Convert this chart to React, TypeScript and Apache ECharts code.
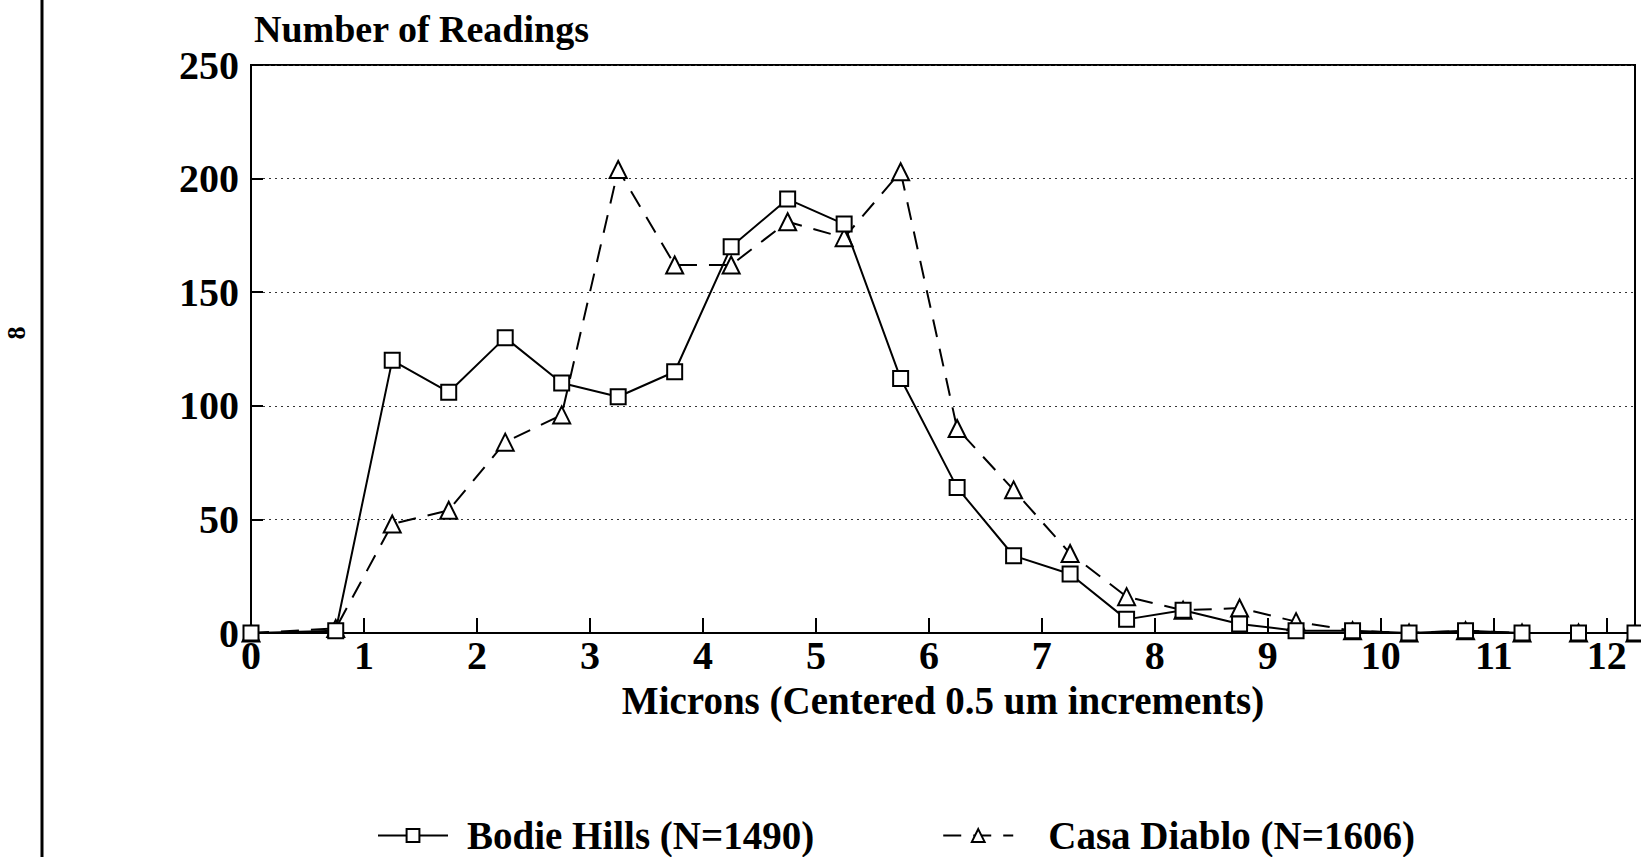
import { useEffect, useRef } from "react";
import * as echarts from "echarts";

const xValues = [0, 0.75, 1.25, 1.75, 2.25, 2.75, 3.25, 3.75, 4.25, 4.75, 5.25, 5.75, 6.25, 6.75, 7.25, 7.75, 8.25, 8.75, 9.25, 9.75, 10.25, 10.75, 11.25, 11.75, 12.25];
const bodieHills = [0, 1, 120, 106, 130, 110, 104, 115, 170, 191, 180, 112, 64, 34, 26, 6, 10, 4, 1, 1, 0, 1, 0, 0, 0];
const casaDiablo = [0, 2, 48, 54, 84, 96, 204, 162, 162, 181, 174, 203, 90, 63, 35, 16, 10, 11, 5, 1, 0, 1, 0, 0, 0];
const seriesNames = ["Bodie Hills (N=1490)", "Casa Diablo (N=1606)"];
const yAxisTitle = "Number of Readings";
const xAxisTitle = "Microns (Centered 0.5 um increments)";

const FONT = "'Liberation Serif', 'Times New Roman', serif";

export default function App() {
  const ref = useRef<HTMLDivElement>(null);
  useEffect(() => {
    if (!ref.current) return;
    const chart = echarts.init(ref.current, null, { renderer: "svg" });
    const txt = { fontFamily: FONT, fontWeight: "bold" as const, color: "#000" };
    chart.setOption({
      animation: false,
      backgroundColor: "#fff",
      grid: {
        left: 251,
        right: 6,
        top: 65,
        bottom: 224,
        show: true,
        borderColor: "#000",
        borderWidth: 2,
        backgroundColor: "transparent",
      },
      title: {
        text: yAxisTitle,
        left: 249,
        top: 5,
        textStyle: { ...txt, fontSize: 38 },
      },
      legend: {
        data: [
          { name: seriesNames[0], textStyle: { ...txt, fontSize: 39, padding: [0, 0, 0, 14] } },
          { name: seriesNames[1], textStyle: { ...txt, fontSize: 39, padding: [0, 0, 0, 30] } },
        ],
        left: 377,
        top: 816,
        padding: 0,
        itemWidth: 70,
        itemHeight: 16,
        itemGap: 128,
        textStyle: { ...txt, fontSize: 39 },
      },
      xAxis: {
        type: "value",
        min: 0,
        max: 12.25,
        interval: 1,
        name: xAxisTitle,
        nameLocation: "middle",
        nameGap: 48,
        nameTextStyle: { ...txt, fontSize: 39 },
        axisLine: { show: true, lineStyle: { color: "#000", width: 2 } },
        axisTick: { show: true, inside: true, length: 15, lineStyle: { color: "#000", width: 2 } },
        axisLabel: {
          ...txt,
          fontSize: 40,
          margin: 2,
          formatter: (v: number) => (Number.isInteger(v) ? String(v) : ""),
        },
        splitLine: { show: false },
      },
      yAxis: {
        type: "value",
        min: 0,
        max: 250,
        interval: 50,
        axisLine: { show: true, lineStyle: { color: "#000", width: 2 } },
        axisTick: { show: true, inside: true, length: 12, lineStyle: { color: "#000", width: 2 } },
        axisLabel: { ...txt, fontSize: 40, margin: 12 },
        splitLine: { show: true, lineStyle: { color: "#333", width: 1, type: [2, 4] } },
      },
      series: [
        {
          name: seriesNames[0],
          type: "line",
          data: xValues.map((x, i) => [x, bodieHills[i]]),
          symbol: "emptyRect",
          symbolSize: 15,
          lineStyle: { color: "#000", width: 2 },
          itemStyle: { color: "#000", borderWidth: 2 },
          z: 3,
        },
        {
          name: seriesNames[1],
          type: "line",
          data: xValues.map((x, i) => [x, casaDiablo[i]]),
          symbol: "emptyTriangle",
          symbolSize: 17,
          lineStyle: { color: "#000", width: 2, type: [18, 12] },
          itemStyle: { color: "#000", borderWidth: 2 },
          z: 2,
        },
      ],
      graphic: [
        { type: "line", shape: { x1: 42, y1: 0, x2: 42, y2: 857 }, style: { stroke: "#000", lineWidth: 3 } },
        {
          type: "text",
          x: 16,
          y: 333,
          rotation: Math.PI / 2,
          style: { text: "8", font: `bold 26px ${FONT}`, fill: "#000", align: "center", verticalAlign: "middle" },
        },
      ],
    });
    return () => chart.dispose();
  }, []);
  return (
    <div
      ref={ref}
      style={{ position: "fixed", left: 0, top: 0, width: 1641, height: 857, background: "#fff" }}
    />
  );
}
